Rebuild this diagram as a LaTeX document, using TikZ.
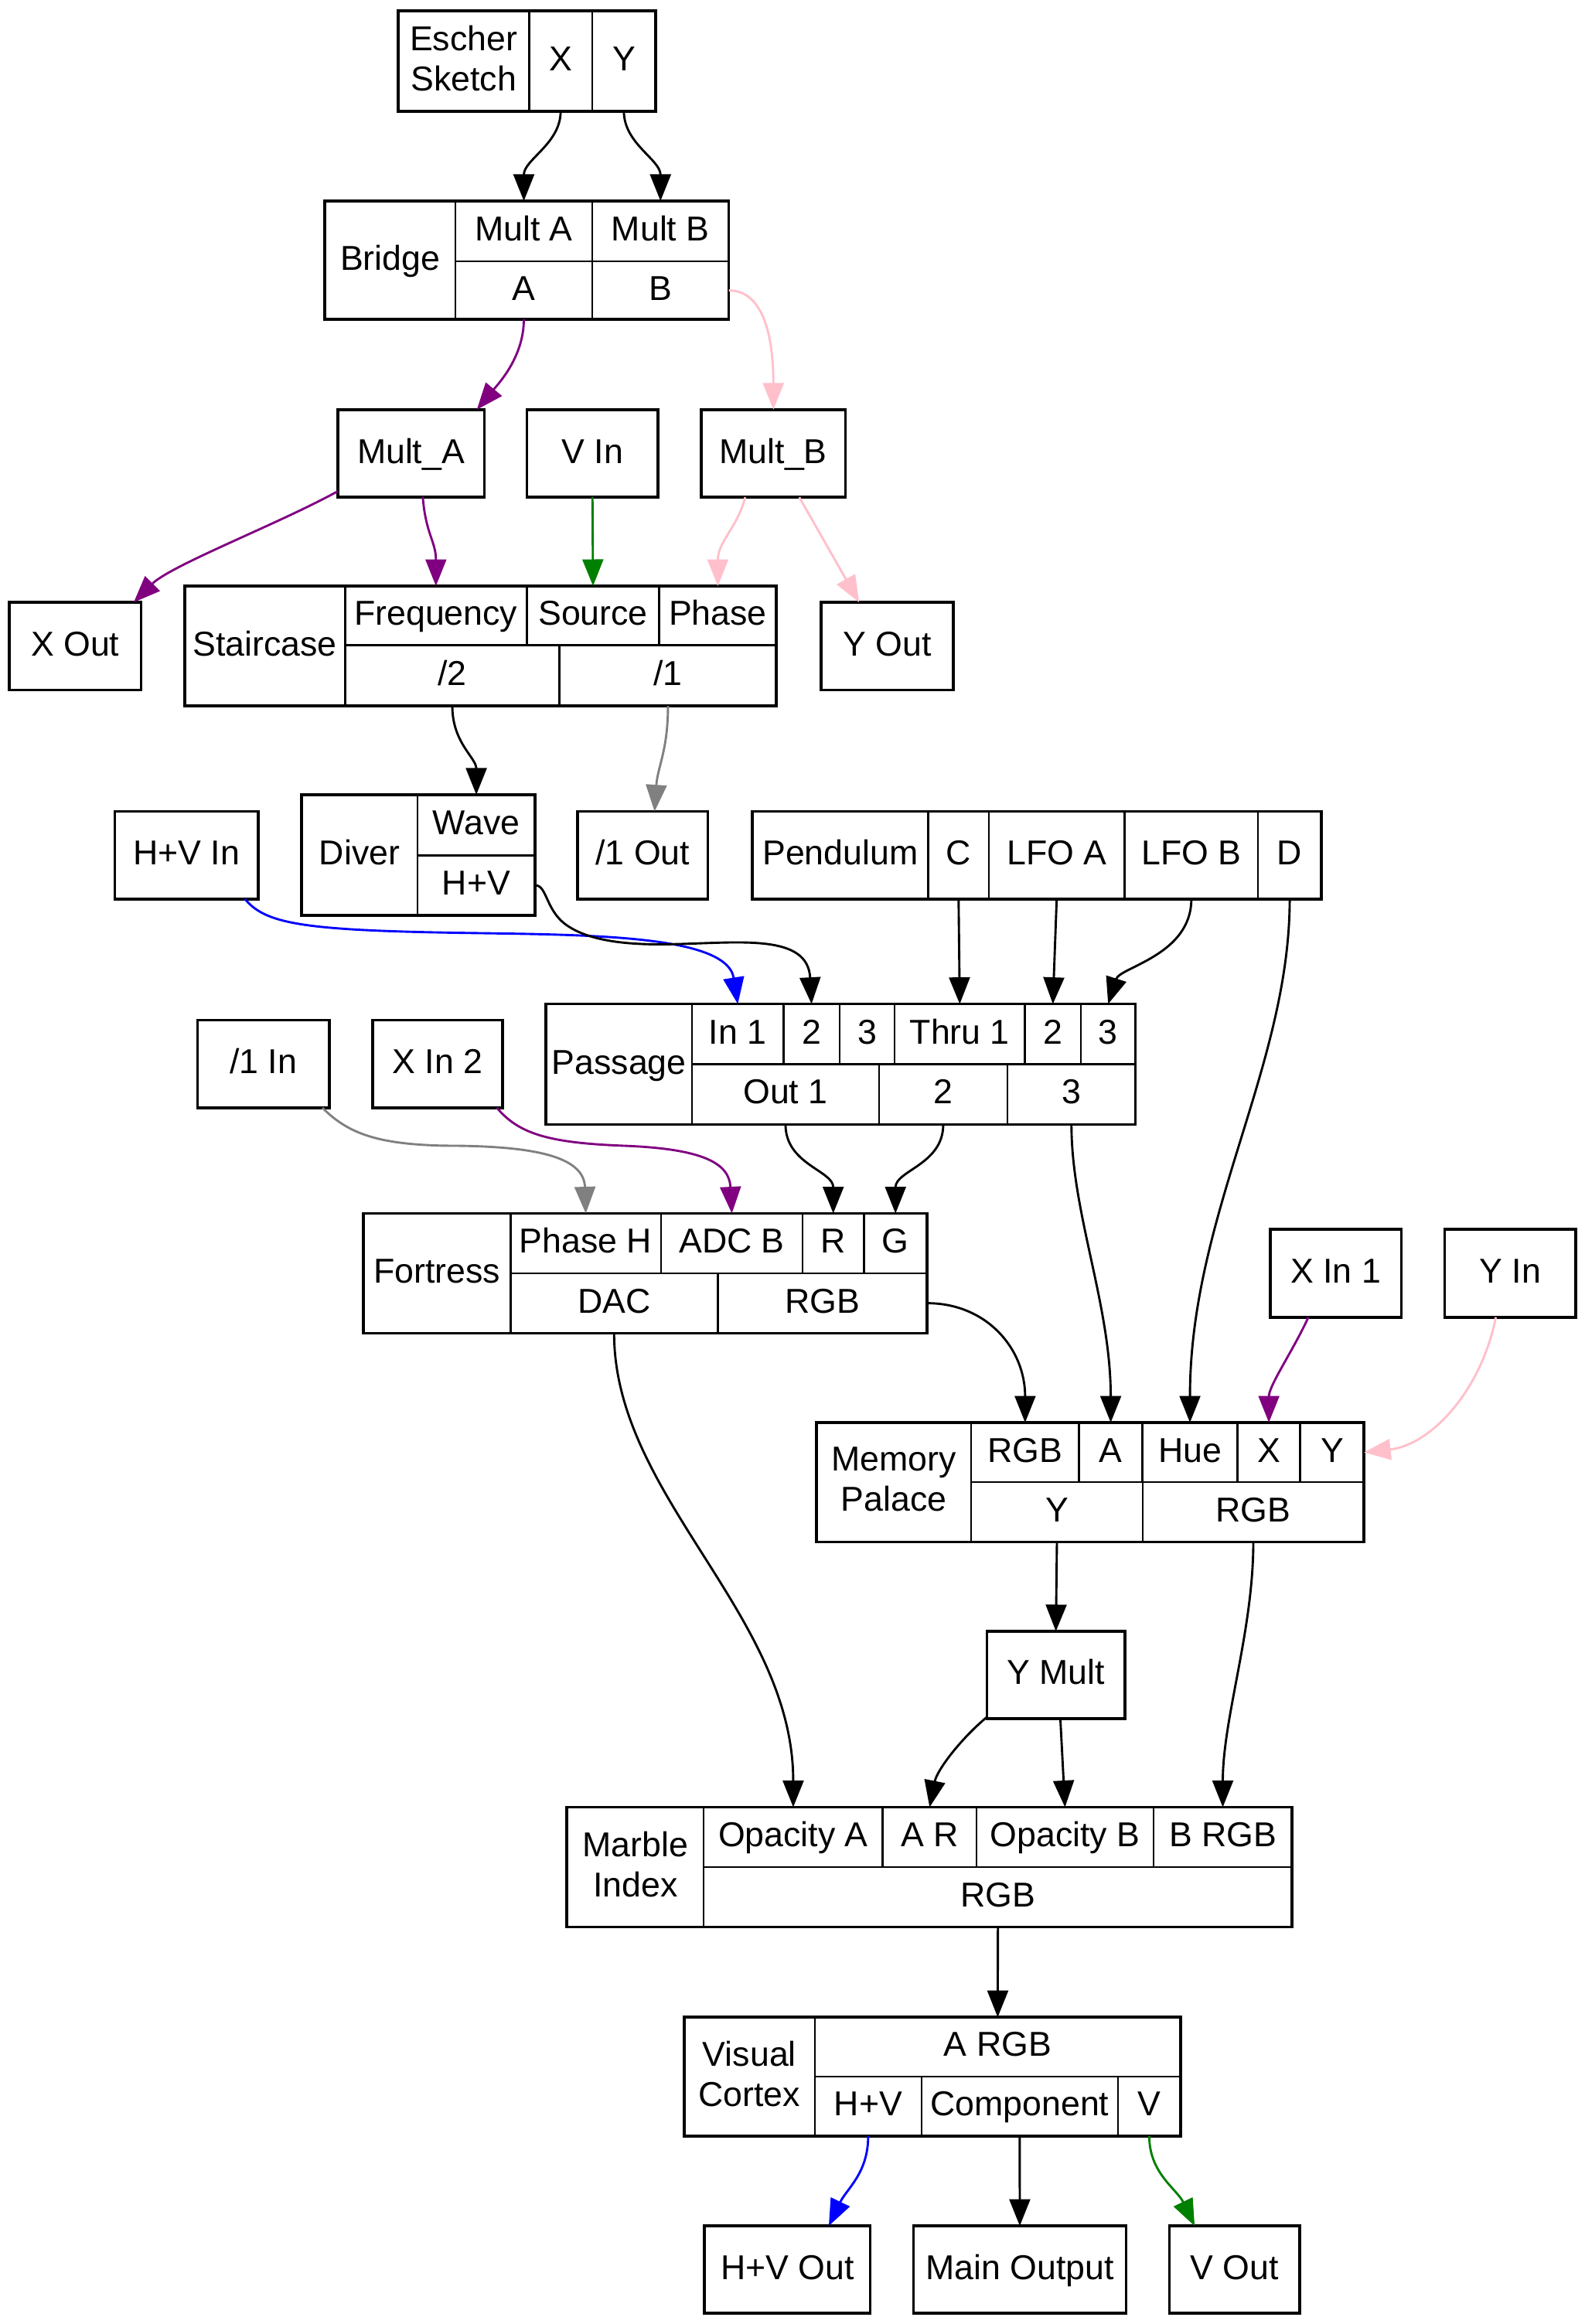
\documentclass[tikz,border=0pt]{standalone}
\usepackage{fontspec}
\setmainfont{Liberation Sans}
\usetikzlibrary{arrows.meta,calc}
\definecolor{gvpurple}{HTML}{800080}
\definecolor{gvpink}{HTML}{FFC0CB}
\definecolor{gvgreen}{HTML}{008000}
\definecolor{gvgray}{HTML}{808080}
\definecolor{gvblue}{HTML}{0000FF}
\newcommand\gvcell[7][cell]{%
  \pgfmathsetmacro\gvw{(#5)-(#3)}%
  \pgfmathsetmacro\gvh{(#6)-(#4)}%
  \pgfmathsetmacro\gvx{((#3)+(#5))/2}%
  \pgfmathsetmacro\gvy{((#4)+(#6))/2}%
  \node[#1, minimum width=\gvw pt, minimum height=\gvh pt] (#2) at (\gvx,\gvy) {#7};}
\newcommand\lowstrut{\rule[-4pt]{0pt}{0pt}}
\begin{document}
\begin{tikzpicture}[x=1pt,y=-1pt,
  txt/.style={font=\fontsize{23.3}{27}\selectfont, inner sep=0pt, outer sep=0pt},
  cell/.style={txt, draw, line width=1.3pt, text height=16.5pt, text depth=3.5pt},
  cellml/.style={txt, draw, line width=1.3pt, align=center},
  box/.style={txt, draw, line width=1.9pt, text height=16.5pt, text depth=3.5pt},
  frame/.style={draw, line width=1.9pt},
  conn/.style={line width=1.5pt, -{Triangle[length=18pt,width=14pt]}}]
\fill[white] (0,0) rectangle (1069,1568);
\useasboundingbox (0,0) rectangle (1069,1568);

% Escher Sketch
\gvcell[cellml]{esN}{268.5}{7.3}{357}{75}{Escher\\Sketch\lowstrut}
\gvcell{esX}{357}{7.3}{399.5}{75}{X}
\gvcell{esY}{399.5}{7.3}{442.3}{75}{Y}
\draw[frame] (268.5,7.3) rectangle (442.3,75);

% Bridge
\gvcell{brN}{219.2}{135.6}{307.3}{215.5}{Bridge}
\gvcell{brMA}{307.3}{135.6}{399.5}{176.4}{Mult A}
\gvcell{brMB}{399.5}{135.6}{491.7}{176.4}{Mult B}
\gvcell{brA}{307.3}{176.4}{399.5}{215.5}{A}
\gvcell{brB}{399.5}{176.4}{491.7}{215.5}{B}
\draw[frame] (219.2,135.6) rectangle (491.7,215.5);

% simple boxes row
\gvcell[box]{multA}{227.8}{276.4}{326.7}{335.5}{Mult\_A}
\gvcell[box]{vin}{355.4}{276.4}{444}{335.5}{V In}
\gvcell[box]{multB}{473.1}{276.4}{570.4}{335.5}{Mult\_B}
\gvcell[box]{xout}{6.2}{406.4}{95.2}{465.5}{X Out}
\gvcell[box]{yout}{554.1}{406.4}{643.1}{465.5}{Y Out}

% Staircase
\gvcell{stN}{124.7}{395.4}{232.8}{476.3}{Staircase}
\gvcell{stF}{232.8}{395.4}{355.4}{435.4}{Frequency}
\gvcell{stS}{355.4}{395.4}{444.8}{435.4}{Source}
\gvcell{stP}{444.8}{395.4}{523.8}{435.4}{Phase}
\gvcell{st2}{232.8}{435.4}{377.5}{476.3}{/2}
\gvcell{st1}{377.5}{435.4}{523.8}{476.3}{/1}
\draw[frame] (124.7,395.4) rectangle (523.8,476.3);

% row with Diver, Pendulum
\gvcell[box]{hvin}{77.4}{547.5}{174.2}{606.5}{H+V In}
\gvcell{diN}{203.5}{536.2}{281.7}{617.6}{Diver}
\gvcell{diW}{281.7}{536.2}{361}{577.1}{Wave}
\gvcell{diHV}{281.7}{577.1}{361}{617.6}{H+V}
\draw[frame] (203.5,536.2) rectangle (361,617.6);
\gvcell[box]{oneout}{389.7}{547.5}{477.5}{606.5}{/1 Out}
\gvcell{peN}{507.5}{547.5}{626.3}{606.5}{Pendulum}
\gvcell{peC}{626.3}{547.5}{667.1}{606.5}{C}
\gvcell{peLA}{667.1}{547.5}{758.7}{606.5}{LFO A}
\gvcell{peLB}{758.7}{547.5}{848.8}{606.5}{LFO B}
\gvcell{peD}{848.8}{547.5}{891.4}{606.5}{D}
\draw[frame] (507.5,547.5) rectangle (891.4,606.5);

% row with Passage
\gvcell[box]{onein}{133.2}{688.3}{222.1}{747.4}{/1 In}
\gvcell[box]{xin2}{251.3}{688.3}{339.2}{747.4}{X In 2}
\gvcell{paN}{368.4}{677.4}{466.9}{758.7}{Passage}
\gvcell{paI1}{466.9}{677.4}{528.6}{718}{In 1}
\gvcell{paI2}{528.6}{677.4}{566.4}{718}{2}
\gvcell{paI3}{566.4}{677.4}{603.6}{718}{3}
\gvcell{paT1}{603.6}{677.4}{691.4}{718}{Thru 1}
\gvcell{paT2}{691.4}{677.4}{729.2}{718}{2}
\gvcell{paT3}{729.2}{677.4}{766}{718}{3}
\gvcell{paO1}{466.9}{718}{593}{758.7}{Out 1}
\gvcell{paO2}{593}{718}{679.7}{758.7}{2}
\gvcell{paO3}{679.7}{718}{766}{758.7}{3}
\draw[frame] (368.4,677.4) rectangle (766,758.7);

% Fortress
\gvcell{foN}{245}{818.7}{344.4}{899.5}{Fortress}
\gvcell{foPH}{344.4}{818.7}{446}{859}{Phase H}
\gvcell{foADC}{446}{818.7}{541.5}{859}{ADC B}
\gvcell{foR}{541.5}{818.7}{582.8}{859}{R}
\gvcell{foG}{582.8}{818.7}{625.5}{859}{G}
\gvcell{foDAC}{344.4}{859}{484.2}{899.5}{DAC}
\gvcell{foRGB}{484.2}{859}{625.5}{899.5}{RGB}
\draw[frame] (245,818.7) rectangle (625.5,899.5);
\gvcell[box]{xin1}{857}{829.5}{945.4}{888.7}{X In 1}
\gvcell[box]{yin}{974.6}{829.5}{1063}{888.7}{Y In}

% Memory Palace
\gvcell[cellml]{meN}{550.7}{959.8}{655.2}{1040.3}{Memory\\Palace\lowstrut}
\gvcell{meRGB}{655.2}{959.8}{728}{1000}{RGB}
\gvcell{meA}{728}{959.8}{770.7}{1000}{A}
\gvcell{meHue}{770.7}{959.8}{834.9}{1000}{Hue}
\gvcell{meX}{834.9}{959.8}{877.2}{1000}{X}
\gvcell{meY}{877.2}{959.8}{920.2}{1000}{Y}
\gvcell{meYo}{655.2}{1000}{770.9}{1040.3}{Y}
\gvcell{meRGBo}{770.9}{1000}{920.2}{1040.3}{RGB}
\draw[frame] (550.7,959.8) rectangle (920.2,1040.3);

\gvcell[box]{ymult}{665.9}{1100.6}{758.8}{1159.4}{Y Mult}

% Marble Index
\gvcell[cellml]{maN}{382.5}{1219.3}{474.8}{1300.2}{Marble\\Index\lowstrut}
\gvcell{maOA}{474.8}{1219.3}{595.5}{1259.7}{Opacity A}
\gvcell{maAR}{595.5}{1219.3}{658.8}{1259.7}{A R}
\gvcell{maOB}{658.8}{1219.3}{778.2}{1259.7}{Opacity B}
\gvcell{maBRGB}{778.2}{1219.3}{871.7}{1259.7}{B RGB}
\gvcell{maRGB}{474.8}{1259.7}{871.7}{1300.2}{RGB}
\draw[frame] (382.5,1219.3) rectangle (871.7,1300.2);

% Visual Cortex
\gvcell[cellml]{coN}{461.6}{1361}{549.7}{1441.3}{Visual\\Cortex\lowstrut}
\gvcell{coARGB}{549.7}{1361}{796.5}{1401}{A RGB}
\gvcell{coHV}{549.7}{1401}{621.7}{1441.3}{H+V}
\gvcell{coComp}{621.7}{1401}{754.2}{1441.3}{Component}
\gvcell{coV}{754.2}{1401}{796.5}{1441.3}{V}
\draw[frame] (461.6,1361) rectangle (796.5,1441.3);

\gvcell[box]{hvout}{475.3}{1501.8}{587}{1560.8}{H+V Out}
\gvcell[box]{mainout}{616.3}{1501.8}{759.7}{1560.8}{Main Output}
\gvcell[box]{vout}{788.9}{1501.8}{877}{1560.8}{V Out}

% connectors
\draw[conn] (esX.south) .. controls +(0,22) and +(0,-28) .. (brMA.north);
\draw[conn] (esY.south) .. controls +(0,22) and +(0,-28) .. (brMB.north);
\draw[conn,gvpurple] (brA.south) .. controls +(0,25) and +(15,-18) .. ($(multA.north east)+(-5,0)$);
\draw[conn,gvpink] (brB.east) .. controls +(25,0) and +(0,-45) .. (multB.north);
\draw[conn,gvpurple] ($(multA.south west)+(0,-4)$) .. controls +(-40,22) and +(25,-25) .. ($(xout.north east)+(-5,0)$);
\draw[conn,gvpurple] ($(multA.south)+(8,0)$) .. controls +(2,25) and +(0,-30) .. (stF.north);
\draw[conn,gvgreen] (vin.south) -- (stS.north);
\draw[conn,gvpink] ($(multB.south)+(-19,0)$) .. controls +(-5,20) and +(0,-30) .. (stP.north);
\draw[conn,gvpink] ($(multB.south)+(17.5,0)$) -- ($(yout.north)+(-19,0)$);
\draw[conn] (st2.south) .. controls +(0,25) and +(0,-25) .. (diW.north);
\draw[conn,gvgray] (st1.south) .. controls +(0,30) and +(2,-30) .. ($(oneout.north)+(8,0)$);
\draw[conn,gvblue] ($(hvin.south east)+(-9,0)$) .. controls (178,622) and (200,627) .. (290,629) .. controls (380,631) and (490,628) .. (paI1.north);
\draw[conn] (diHV.east) .. controls (369,597) and (368,614) .. (382,624) .. controls (396,634) and (420,638) .. (455,637) .. controls (500,636) and (545,630) .. (paI2.north);
\draw[conn] (peC.south) -- (paT1.north);
\draw[conn] (peLA.south) -- (paT2.north);
\draw[conn] (peLB.south) .. controls +(0,38) and +(8,-25) .. (paT3.north);
\draw[conn] (peD.south) .. controls +(0,113) and +(0,-140) .. (meHue.north);
\draw[conn,gvgray] ($(onein.south east)+(-4.6,0)$) .. controls (235,765) and (255,772) .. (300,773) .. controls (360,773) and (394,780) .. (foPH.north);
\draw[conn,gvpurple] ($(xin2.south east)+(-4,0)$) .. controls (350,765) and (370,771) .. (420,773) .. controls (475,775) and (492,785) .. (foADC.north);
\draw[conn] (paO1.south) .. controls +(0,27) and +(0,-29) .. (foR.north);
\draw[conn] (paO2.south) .. controls +(0,27) and +(0,-29) .. (foG.north);
\draw[conn] (paO3.south) .. controls +(0,60) and +(0,-80) .. (meA.north);
\draw[conn] (foRGB.east) .. controls +(40,0) and +(0,-50) .. (meRGB.north);
\draw[conn] (foDAC.south) .. controls +(0,110) and +(0,-130) .. (maOA.north);
\draw[conn,gvpurple] ($(xin1.south)+(-18.5,0)$) .. controls +(-10,22) and +(0,-25) .. (meX.north);
\draw[conn,gvpink] ($(yin.south)+(-9.6,0)$) .. controls +(-10,50) and +(45,-5) .. (meY.east);
\draw[conn] (meYo.south) -- (ymult.north);
\draw[conn] (meRGBo.south) .. controls +(0,60) and +(0,-60) .. (maBRGB.north);
\draw[conn] ($(ymult.south west)+(0,-1)$) .. controls +(-18,15) and +(5,-25) .. (maAR.north);
\draw[conn] ($(ymult.south)+(3,0)$) -- (maOB.north);
\draw[conn] (maRGB.south) -- (coARGB.north);
\draw[conn,gvblue] (coHV.south) .. controls +(0,25) and +(12,-25) .. ($(hvout.north)+(28,0)$);
\draw[conn] (coComp.south) -- (mainout.north);
\draw[conn,gvgreen] (coV.south) .. controls +(0,25) and +(-12,-25) .. ($(vout.north)+(-27,0)$);
\end{tikzpicture}
\end{document}
